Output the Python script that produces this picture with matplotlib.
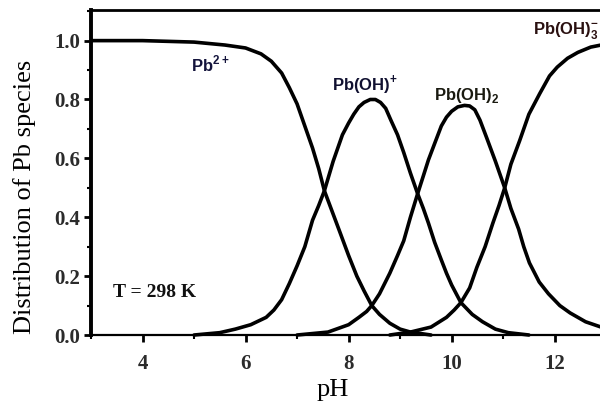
import matplotlib
matplotlib.use("Agg")
import matplotlib.pyplot as plt
from matplotlib.ticker import MultipleLocator

# ---- data ----
ph_pb2 = [3.0, 4.0, 5.0, 5.6, 6.0, 6.3, 6.5, 6.7, 6.85, 7.0, 7.15, 7.3, 7.42, 7.53, 7.68, 7.83,
          8.0, 8.16, 8.3, 8.45, 8.6, 8.8, 9.0, 9.2, 9.6]
y_pb2 = [1.0, 1.0, 0.995, 0.985, 0.975, 0.955, 0.93, 0.89, 0.84, 0.785, 0.71, 0.635, 0.565, 0.49,
         0.42, 0.35, 0.27, 0.20, 0.15, 0.10, 0.07, 0.04, 0.02, 0.01, 0.0]

ph_pboh = [5.0, 5.5, 5.8, 6.1, 6.4, 6.55, 6.7, 6.85, 7.0, 7.15, 7.3, 7.42, 7.53, 7.7, 7.88, 8.0,
           8.1, 8.2, 8.3, 8.42, 8.52, 8.62, 8.72, 8.82, 8.95, 9.07, 9.2, 9.34, 9.45, 9.55, 9.67,
           9.8, 9.9, 10.0, 10.18, 10.4, 10.6, 10.85, 11.1, 11.5]
y_pboh = [0.0, 0.008, 0.02, 0.035, 0.06, 0.085, 0.12, 0.175, 0.235, 0.30, 0.39, 0.44, 0.49, 0.59,
          0.68, 0.72, 0.75, 0.775, 0.79, 0.80, 0.80, 0.79, 0.77, 0.73, 0.68, 0.62, 0.55, 0.48,
          0.43, 0.38, 0.315, 0.255, 0.21, 0.17, 0.11, 0.07, 0.045, 0.02, 0.008, 0.0]

ph_pboh2 = [7.0, 7.6, 8.0, 8.2, 8.35, 8.45, 8.6, 8.8, 8.95, 9.07, 9.2, 9.34, 9.45, 9.55, 9.68, 9.8,
            9.9, 10.0, 10.12, 10.25, 10.35, 10.45, 10.55, 10.68, 10.85, 11.03, 11.15, 11.3, 11.4,
            11.51, 11.7, 11.88, 12.1, 12.3, 12.6, 12.9]
y_pboh2 = [0.0, 0.01, 0.035, 0.06, 0.08, 0.10, 0.14, 0.21, 0.27, 0.32, 0.40, 0.48, 0.54, 0.595,
           0.655, 0.71, 0.74, 0.76, 0.775, 0.78, 0.778, 0.765, 0.73, 0.67, 0.59, 0.50, 0.43, 0.36,
           0.30, 0.245, 0.18, 0.14, 0.10, 0.075, 0.045, 0.027]

ph_pboh3 = [8.8, 9.2, 9.6, 9.9, 10.05, 10.18, 10.35, 10.49, 10.65, 10.8, 10.92, 11.03, 11.15, 11.32,
            11.5, 11.71, 11.9, 12.05, 12.25, 12.45, 12.7, 12.9]
y_pboh3 = [0.0, 0.01, 0.027, 0.06, 0.085, 0.11, 0.16, 0.23, 0.30, 0.38, 0.44, 0.50, 0.58, 0.66,
           0.75, 0.82, 0.88, 0.91, 0.94, 0.96, 0.978, 0.985]

x_ticks = [4, 6, 8, 10, 12]
y_ticks = [0.0, 0.2, 0.4, 0.6, 0.8, 1.0]

plt.rcParams['mathtext.fontset'] = 'custom'
plt.rcParams['mathtext.rm'] = 'Liberation Sans'
plt.rcParams['mathtext.bf'] = 'Liberation Sans:bold'

fig = plt.figure(figsize=(6.0, 4.05), dpi=100)
ax = fig.add_axes([0.1517, 0.1728, 0.8483, 0.8025])

lw = 2.6
for xs, ys in [(ph_pb2, y_pb2), (ph_pboh, y_pboh), (ph_pboh2, y_pboh2), (ph_pboh3, y_pboh3)]:
    ax.plot(xs, ys, color='black', lw=lw, solid_capstyle='round', solid_joinstyle='round',
            clip_on=False, zorder=3)

ax.set_xlim(3.0, 12.88)
ax.set_ylim(0.0, 1.104)

ax.set_xticks(x_ticks)
ax.set_yticks(y_ticks)
ax.set_yticklabels([f"{v:.1f}" for v in y_ticks])
ax.xaxis.set_minor_locator(MultipleLocator(1))
ax.yaxis.set_minor_locator(MultipleLocator(0.1))

for lab in ax.get_xticklabels() + ax.get_yticklabels():
    lab.set_fontfamily('Liberation Serif')
    lab.set_fontsize(15)
    lab.set_fontweight('bold')
    lab.set_color('#2b2b2b')

ax.tick_params(axis='both', which='major', direction='out', length=5, width=2.0, color='black')
ax.tick_params(axis='both', which='minor', direction='out', length=3, width=1.5, color='black')
ax.tick_params(axis='x', pad=9)
ax.tick_params(axis='y', pad=3)

ax.spines['right'].set_visible(False)
ax.spines['left'].set_linewidth(2.8)
ax.spines['top'].set_linewidth(2.0)
ax.spines['bottom'].set_linewidth(1.6)

ax.set_xlabel('pH', family='Liberation Serif', size=19)
ax.set_ylabel('Distribution of Pb species', family='Liberation Serif', size=19)
ax.xaxis.set_label_coords(0.475, -0.135)
ax.yaxis.set_label_coords(-0.108, 0.425)

# species labels
ax.text(4.95, 0.92, r'Pb$^{\mathbf{2+}}$', family='Liberation Sans', weight='bold', size=12,
        color='#14143c', ha='left', va='center')
ax.text(8.31, 0.85, r'Pb(OH)$^{\mathbf{+}}$', family='Liberation Sans', weight='bold', size=12,
        color='#101030', ha='center', va='center')
ax.text(10.29, 0.815, r'Pb(OH)$_{\mathbf{2}}$', family='Liberation Sans', weight='bold', size=12,
        color='#1a1a10', ha='center', va='center')
ax.text(11.57, 1.035, r'Pb(OH)$_{\mathbf{3}}^{\mathbf{-}}$', family='Liberation Sans', weight='bold',
        size=12, color='#2a1010', ha='left', va='center', clip_on=False)

ax.text(3.42, 0.146, 'T = 298 K', family='Liberation Serif', weight='bold', size=14,
        color='#111111', ha='left', va='center')

fig.savefig('out.png', dpi=100)
